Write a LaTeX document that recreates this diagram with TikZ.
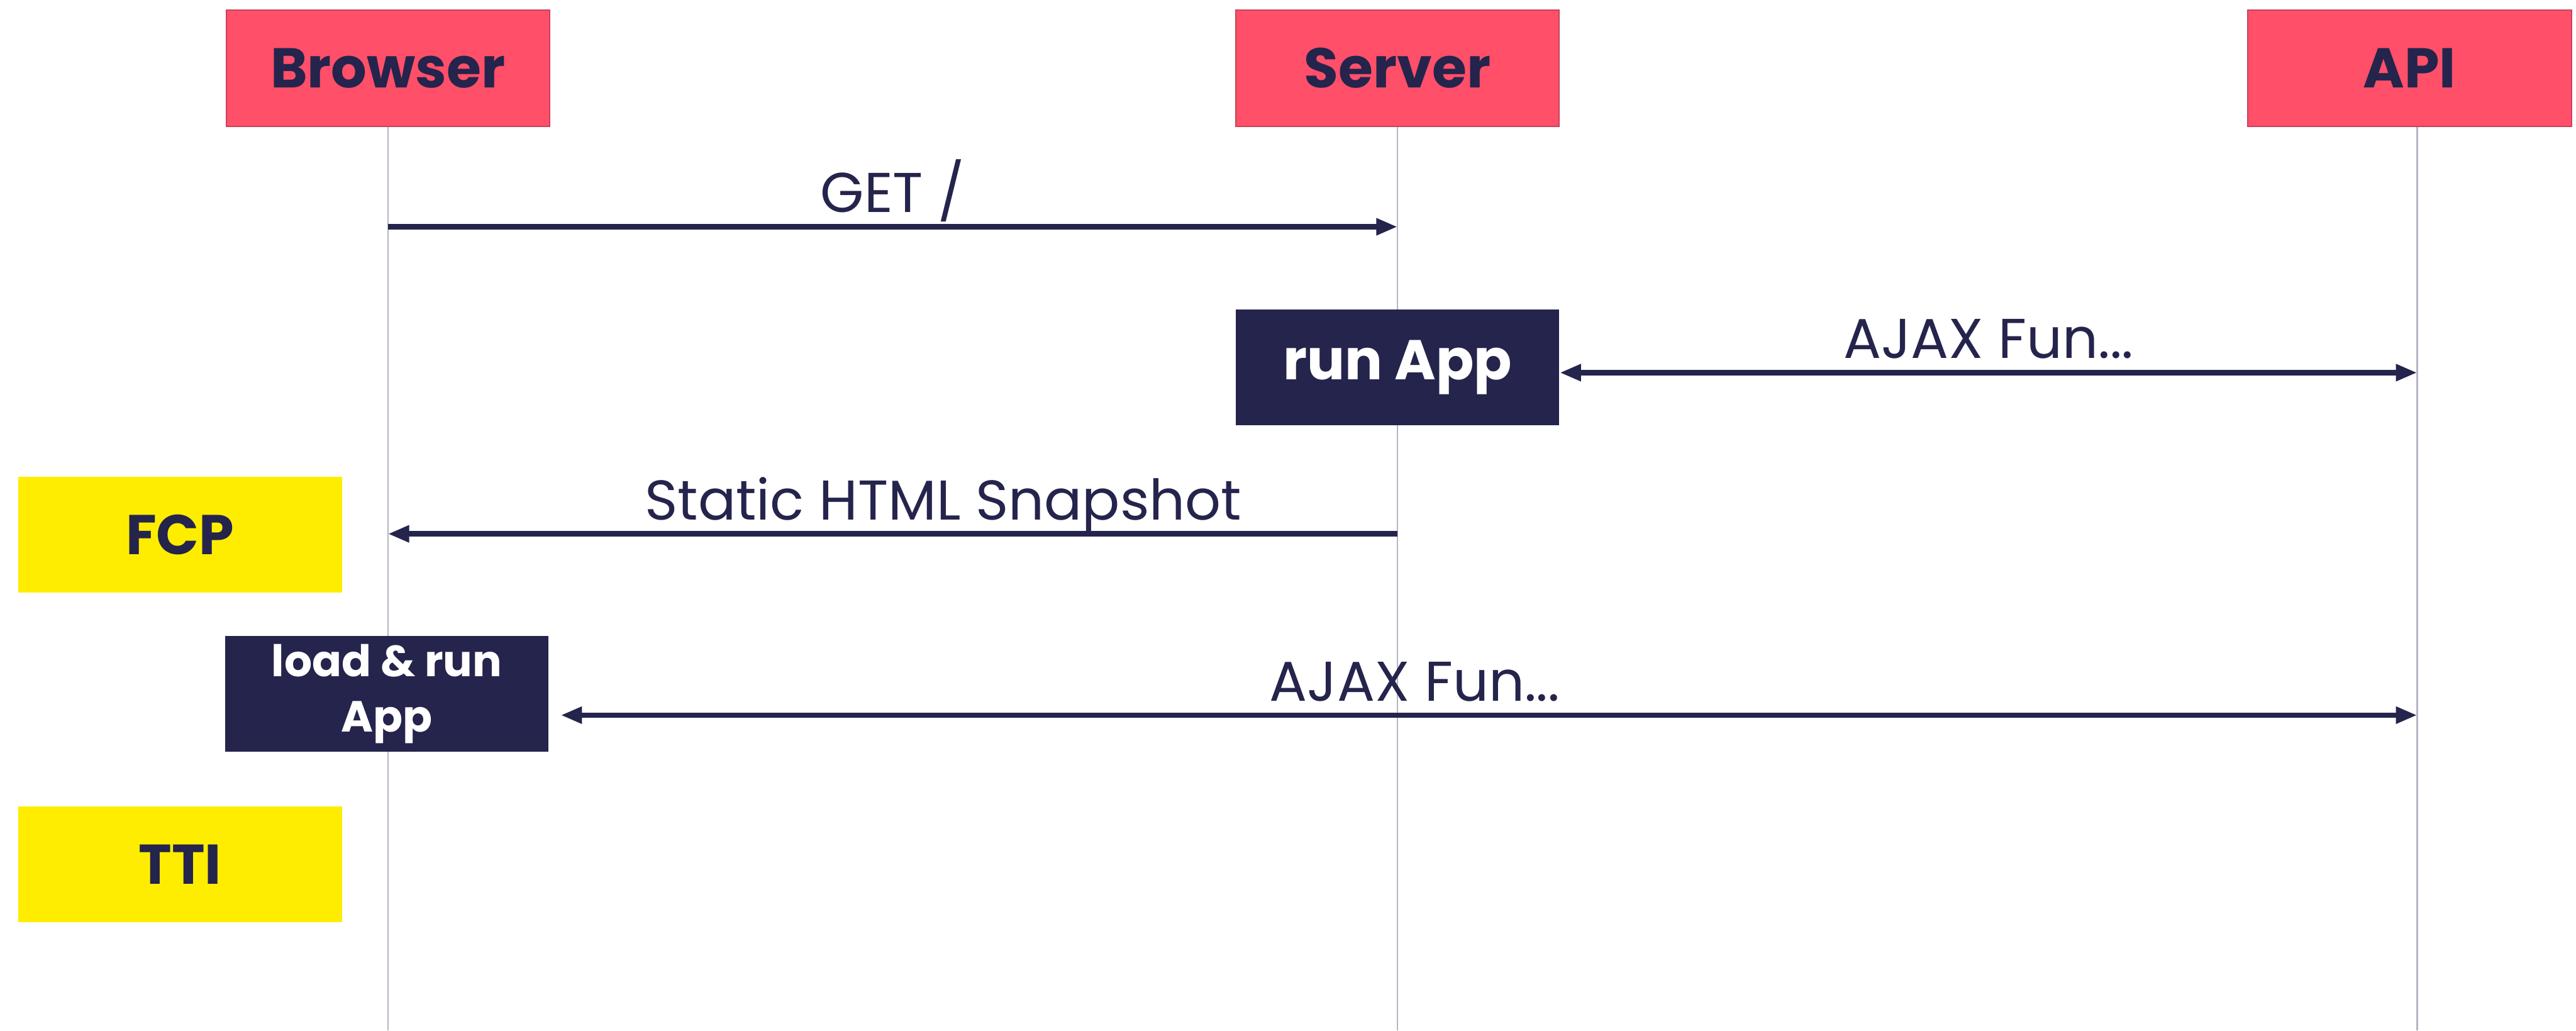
\documentclass[tikz,border=0pt]{standalone}
\usepackage{fontspec}
\setmainfont{Poppins}
\usetikzlibrary{arrows.meta,positioning}
\definecolor{ink}{HTML}{24244C}
\definecolor{actor}{HTML}{FF4F69}
\definecolor{actorline}{HTML}{C8435A}
\definecolor{metric}{HTML}{FFED00}
\definecolor{life}{HTML}{B5B5C5}

\begin{document}
\begin{tikzpicture}[font=\fontsize{27}{32}\selectfont,
    actorbox/.style={draw=actorline,fill=actor,line width=0.6pt,text=ink,font=\fontsize{27}{32}\selectfont\bfseries,minimum width=5.48cm,minimum height=1.97cm},
    runbox/.style={fill=ink,text=white,font=\fontsize{27}{32}\selectfont\bfseries,minimum width=5.48cm,minimum height=1.96cm,align=center},
    metricbox/.style={fill=metric,text=ink,font=\fontsize{27}{32}\selectfont\bfseries,minimum width=5.48cm,minimum height=1.96cm},
    lifeline/.style={draw=life,line width=0.7pt},
    msg/.style={draw=ink,line width=2.6pt,-{Triangle[length=0.36cm,width=0.27cm]}},
    twoway/.style={draw=ink,line width=2.6pt,{Triangle[length=0.36cm,width=0.27cm]}-{Triangle[length=0.36cm,width=0.27cm]}},
    msgtext/.style={text=ink,anchor=base,yshift=0.24cm}]
    \useasboundingbox (0,0) rectangle (43.63,-17.45);
    \node[actorbox] (browser) at (6.57,-1.155) {Browser};
    \node[actorbox] (server) at (23.67,-1.155) {Server};
    \node[actorbox] (api) at (40.81,-1.155) {API};
    \coordinate (apitop) at ([xshift=0.13cm]api.south);
    \coordinate (bottom) at (0,-17.45);
    \draw[lifeline] (browser.south) -- (browser.south |- bottom);
    \draw[lifeline] (server.south) -- (server.south |- bottom);
    \draw[lifeline] (apitop) -- (apitop |- bottom);

    \node[runbox,below=3.08cm of server] (runapp) {run App};
    \node[metricbox] (fcp) at (3.05,-9.05) {FCP};
    \node[runbox,font=\fontsize{21}{26.5}\selectfont\bfseries] (load) at (6.55,-11.75) {load \& run\\App};
    \node[metricbox] (tti) at (3.05,-14.64) {TTI};

    \coordinate (row1) at (0,-3.84);
    \coordinate (row2) at (0,-6.31);
    \coordinate (row3) at (0,-9.04);
    \coordinate (row4) at (0,-12.11);
    \coordinate (loadout) at ([xshift=0.2cm]load.east);

    \draw[msg] (browser.south |- row1) -- node[msgtext] {GET /} (server.south |- row1);
    \draw[twoway] (runapp.east |- row2) -- node[msgtext] {AJAX Fun...} (apitop |- row2);
    \draw[msg] (server.south |- row3) -- node[msgtext,pos=.45] {Static HTML Snapshot} (browser.south |- row3);
    \draw[twoway] (loadout |- row4) -- node[msgtext,pos=.46] {AJAX Fun...} (apitop |- row4);
\end{tikzpicture}
\end{document}
